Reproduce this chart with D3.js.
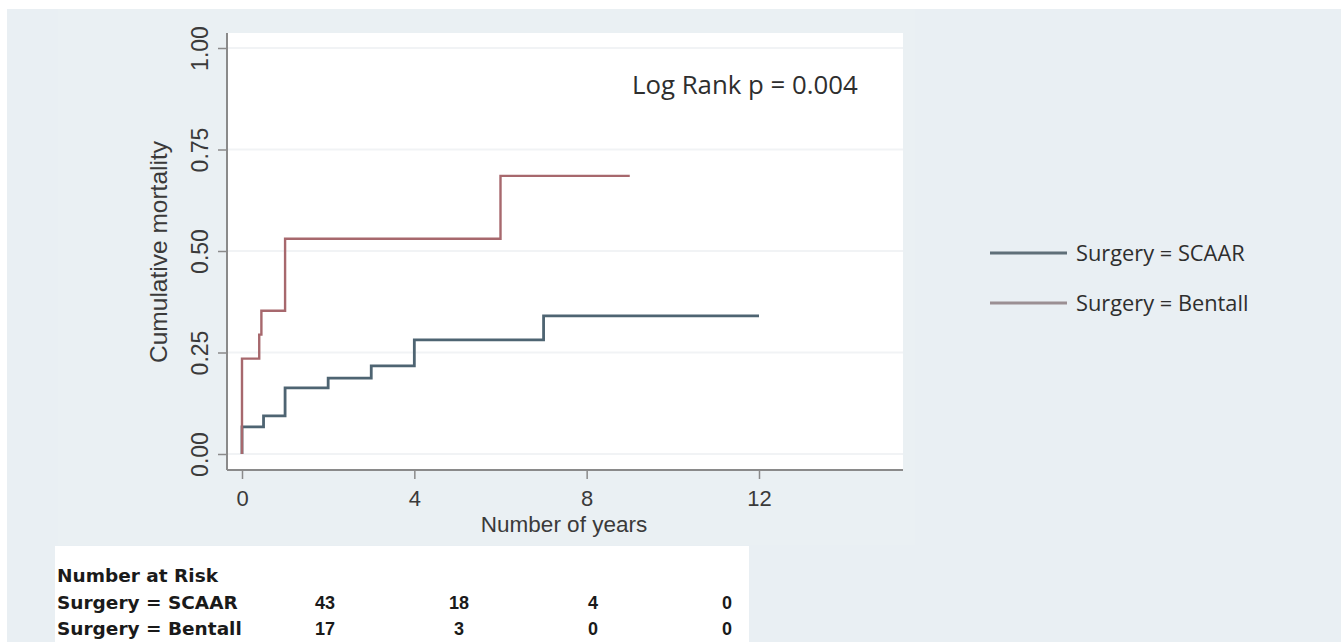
<!DOCTYPE html>
<html>
<head>
<meta charset="utf-8">
<script src="https://cdn.jsdelivr.net/npm/d3@7"></script>
<style>
    body { margin: 0; background: #ffffff; }
    #chart { width: 1341px; height: 642px; }
</style>
</head>
<body>
<div id="chart"></div>
<script>
// Kaplan-Meier steps (cumulative mortality)
const scaarTimes = [0, 0, 0.5, 1, 2, 3, 4, 7, 12];
const scaarValues = [0, 0.067, 0.094, 0.163, 0.187, 0.217, 0.281, 0.34, 0.34];
const bentallTimes = [0, 0, 0.4, 0.45, 1, 6, 9];
const bentallValues = [0, 0.235, 0.294, 0.353, 0.53, 0.685, 0.685];

const groupNames = ["Surgery = SCAAR", "Surgery = Bentall"];
const xTicks = [0, 4, 8, 12];
const yTicks = [0, 0.25, 0.5, 0.75, 1];
const yTickLabels = ["0.00", "0.25", "0.50", "0.75", "1.00"];

const riskTimes = [0, 4, 8, 12];
const riskScaar = [43, 18, 4, 0];
const riskBentall = [17, 3, 0, 0];

const pValueText = "Log Rank p = 0.004";

class KMChart {
    constructor(parentElement) {
        this.parentElement = parentElement;
        this.initVis();
    }

    initVis() {
        let vis = this;

        vis.svg = d3.select("#" + vis.parentElement).append("svg")
            .attr("width", 1341)
            .attr("height", 642);

        // background panels
        vis.svg.append("rect")
            .attr("x", 7).attr("y", 9)
            .attr("width", 1334).attr("height", 633)
            .attr("fill", "#e9eff3");

        vis.svg.append("rect")
            .attr("x", 58).attr("y", 9)
            .attr("width", 857).attr("height", 536)
            .attr("fill", "#eaf0f3");

        vis.plot = {left: 227, right: 903, top: 33, bottom: 470};

        vis.svg.append("rect")
            .attr("x", vis.plot.left).attr("y", vis.plot.top)
            .attr("width", vis.plot.right - vis.plot.left)
            .attr("height", vis.plot.bottom - vis.plot.top)
            .attr("fill", "#ffffff");

        vis.x = d3.scaleLinear().domain([0, 12]).range([242, 759]);
        vis.y = d3.scaleLinear().domain([0, 1]).range([454, 48]);

        // grid
        vis.svg.selectAll("line.grid")
            .data(yTicks)
            .enter()
            .append("line")
            .attr("class", "grid")
            .attr("x1", vis.plot.left)
            .attr("x2", vis.plot.right)
            .attr("y1", d => vis.y(d))
            .attr("y2", d => vis.y(d))
            .attr("stroke", "#f1f3f5")
            .attr("stroke-width", 2);

        // y axis
        let yAxis = d3.axisLeft(vis.y)
            .tickValues(yTicks)
            .tickFormat((d, i) => yTickLabels[i])
            .tickSize(9)
            .tickSizeOuter(0);

        let yG = vis.svg.append("g")
            .attr("transform", `translate(${vis.plot.left},0)`)
            .call(yAxis);
        yG.select(".domain").remove();
        yG.selectAll(".tick line").attr("stroke", "#8a8a8a").attr("stroke-width", 1.5);
        yG.selectAll(".tick text")
            .attr("x", 0)
            .attr("y", -19)
            .attr("dy", 0)
            .attr("transform", "rotate(-90)")
            .attr("text-anchor", "middle")
            .attr("font-family", "'Liberation Sans', Arial, sans-serif")
            .attr("font-size", "23px")
            .attr("fill", "#3a3a3a");

        vis.svg.append("line")
            .attr("x1", vis.plot.left).attr("x2", vis.plot.left)
            .attr("y1", vis.plot.top).attr("y2", vis.plot.bottom)
            .attr("stroke", "#8a8a8a").attr("stroke-width", 2);

        // x axis
        let xAxis = d3.axisBottom(vis.x)
            .tickValues(xTicks)
            .tickSize(9)
            .tickSizeOuter(0);

        let xG = vis.svg.append("g")
            .attr("transform", `translate(0,${vis.plot.bottom})`)
            .call(xAxis);
        xG.select(".domain").remove();
        xG.selectAll(".tick line").attr("stroke", "#8a8a8a").attr("stroke-width", 1.5);
        xG.selectAll(".tick text")
            .attr("y", 36)
            .attr("dy", 0)
            .attr("font-family", "'Liberation Sans', Arial, sans-serif")
            .attr("font-size", "22px")
            .attr("fill", "#3a3a3a");

        vis.svg.append("line")
            .attr("x1", vis.plot.left).attr("x2", vis.plot.right)
            .attr("y1", vis.plot.bottom).attr("y2", vis.plot.bottom)
            .attr("stroke", "#8a8a8a").attr("stroke-width", 2);

        // axis titles
        vis.svg.append("text")
            .attr("x", 564)
            .attr("y", 532)
            .attr("text-anchor", "middle")
            .attr("font-family", "'Liberation Sans', Arial, sans-serif")
            .attr("font-size", "22.5px")
            .attr("fill", "#3a3a3a")
            .text("Number of years");

        vis.svg.append("text")
            .attr("transform", "translate(167,252) rotate(-90)")
            .attr("text-anchor", "middle")
            .attr("font-family", "'Liberation Sans', Arial, sans-serif")
            .attr("font-size", "24.5px")
            .attr("fill", "#3a3a3a")
            .text("Cumulative mortality");

        // step curves
        let line = d3.line()
            .x(d => vis.x(d[0]))
            .y(d => vis.y(d[1]))
            .curve(d3.curveStepAfter);

        let scaar = scaarTimes.map((t, i) => [t, scaarValues[i]]);
        let bentall = bentallTimes.map((t, i) => [t, bentallValues[i]]);

        vis.svg.append("path")
            .datum(scaar)
            .attr("d", line)
            .attr("fill", "none")
            .attr("stroke", "#4e6472")
            .attr("stroke-width", 2.8);

        vis.svg.append("path")
            .datum(bentall)
            .attr("d", line)
            .attr("fill", "none")
            .attr("stroke", "#a7686d")
            .attr("stroke-width", 2.4);

        vis.svg.append("text")
            .attr("x", 632)
            .attr("y", 94)
            .attr("font-family", "'Open Sans', sans-serif")
            .attr("font-size", "25.8px")
            .attr("fill", "#2e2e2e")
            .text(pValueText);

        // legend
        let legendColors = ["#5f6f78", "#9b8f93"];
        let legend = vis.svg.selectAll("g.legend")
            .data(groupNames)
            .enter()
            .append("g")
            .attr("class", "legend")
            .attr("transform", (d, i) => `translate(990,${253 + i * 50})`);

        legend.append("line")
            .attr("x1", 0).attr("x2", 77)
            .attr("stroke", (d, i) => legendColors[i])
            .attr("stroke-width", 3);

        legend.append("text")
            .attr("x", 86)
            .attr("y", 8)
            .attr("font-family", "'Open Sans', sans-serif")
            .attr("font-size", "21.8px")
            .attr("fill", "#2e2e2e")
            .text(d => d);

        // number at risk table
        vis.svg.append("rect")
            .attr("x", 55).attr("y", 546)
            .attr("width", 694).attr("height", 96)
            .attr("fill", "#ffffff");

        let riskX = d3.scaleLinear().domain([0, 12]).range([325, 727]);
        let rowY = [609, 635];
        let riskRows = [riskScaar, riskBentall];

        vis.svg.append("text")
            .attr("x", 57)
            .attr("y", 582)
            .attr("font-family", "'DejaVu Sans', sans-serif")
            .attr("font-weight", "bold")
            .attr("font-size", "18.5px")
            .attr("fill", "#1a1a1a")
            .text("Number at Risk");

        vis.svg.selectAll("text.rowlabel")
            .data(groupNames)
            .enter()
            .append("text")
            .attr("class", "rowlabel")
            .attr("x", 57)
            .attr("y", (d, i) => rowY[i])
            .attr("font-family", "'DejaVu Sans', sans-serif")
            .attr("font-weight", "bold")
            .attr("font-size", "18.5px")
            .attr("fill", "#1a1a1a")
            .text(d => d);

        riskRows.forEach((row, r) => {
            vis.svg.selectAll("text.risk" + r)
                .data(row)
                .enter()
                .append("text")
                .attr("class", "risk" + r)
                .attr("x", (d, i) => riskX(riskTimes[i]))
                .attr("y", rowY[r])
                .attr("text-anchor", "middle")
                .attr("font-family", "'Liberation Sans', Arial, sans-serif")
                .attr("font-weight", "bold")
                .attr("font-size", "18px")
                .attr("fill", "#1a1a1a")
                .text(d => d);
        });
    }
}

new KMChart("chart");
</script>
</body>
</html>
